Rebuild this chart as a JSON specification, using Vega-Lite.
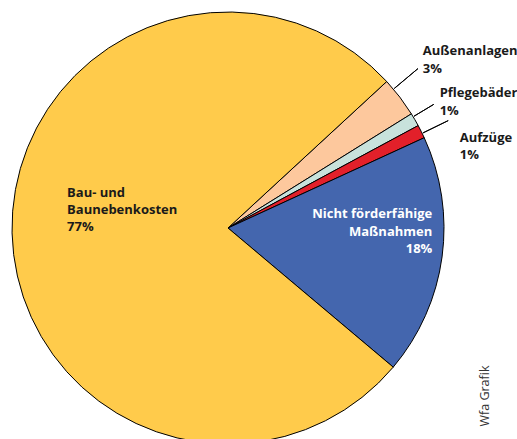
{
  "$schema": "https://vega.github.io/schema/vega-lite/v6.json",
  "width": 456,
  "height": 456,
  "autosize": {"type": "none"},
  "padding": {"left": 0, "top": 0, "right": 61, "bottom": 0},
  "background": "white",
  "config": {"view": {"stroke": null}},
  "data": {"values": [
    {"cat": "Außenanlagen", "rank": 1, "value": 3, "label": "Außenanlagen\n3%"},
    {"cat": "Pflegebäder", "rank": 2, "value": 1, "label": "Pflegebäder\n1%"},
    {"cat": "Aufzüge", "rank": 3, "value": 1, "label": "Aufzüge\n1%"},
    {"cat": "Nicht förderfähige Maßnahmen", "rank": 4, "value": 18, "label": "Nicht förderfähige\nMaßnahmen\n18%"},
    {"cat": "Bau- und Baunebenkosten", "rank": 5, "value": 77, "label": "Bau- und\nBaunebenkosten\n77%"}
  ]},
  "layer": [
    {
      "mark": {"type": "arc", "outerRadius": 216, "stroke": "#000000", "strokeWidth": 1},
      "encoding": {
        "theta": {"field": "value", "type": "quantitative", "stack": true, "scale": {"domain": [0, 100], "range": [0.8255, 7.1087]}},
        "order": {"field": "rank", "type": "quantitative"},
        "color": {"field": "cat", "type": "nominal", "legend": null,
          "scale": {"domain": ["Außenanlagen", "Pflegebäder", "Aufzüge", "Nicht förderfähige Maßnahmen", "Bau- und Baunebenkosten"],
                    "range": ["#FDC89D", "#C8E2DC", "#E2202A", "#4466AE", "#FFCB4B"]}}
      }
    },
    {
      "data": {"values": [{}]},
      "mark": {"type": "arc", "radius": 248, "radius2": 217, "stroke": "#000000", "strokeWidth": 1, "fill": null},
      "encoding": {"theta": {"datum": 0.75, "type": "quantitative"}, "theta2": {"datum": 0.75}}
    },
    {
      "data": {"values": [{}]},
      "mark": {"type": "arc", "radius": 240, "radius2": 217, "stroke": "#000000", "strokeWidth": 1, "fill": null},
      "encoding": {"theta": {"datum": 3.25, "type": "quantitative"}, "theta2": {"datum": 3.25}}
    },
    {
      "data": {"values": [{}]},
      "mark": {"type": "arc", "radius": 245, "radius2": 217, "stroke": "#000000", "strokeWidth": 1, "fill": null},
      "encoding": {"theta": {"datum": 4.64, "type": "quantitative"}, "theta2": {"datum": 4.64}}
    },
    {
      "mark": {"type": "text", "radius": 260, "dx": -12, "dy": -15, "align": "left", "baseline": "alphabetic", "font": "Open Sans", "fontSize": 13, "fontWeight": "bold", "lineHeight": 18, "lineBreak": "\n", "color": "#1a1a1a"},
      "encoding": {
        "theta": {"field": "value", "type": "quantitative", "stack": true},
        "order": {"field": "rank", "type": "quantitative"},
        "text": {"condition": {"test": "datum.cat === 'Außenanlagen'", "field": "label"}, "value": ""}
      }
    },
    {
      "mark": {"type": "text", "radius": 240, "dx": 4, "dy": -11, "align": "left", "baseline": "alphabetic", "font": "Open Sans", "fontSize": 13, "fontWeight": "bold", "lineHeight": 18, "lineBreak": "\n", "color": "#1a1a1a"},
      "encoding": {
        "theta": {"field": "value", "type": "quantitative", "stack": true},
        "order": {"field": "rank", "type": "quantitative"},
        "text": {"condition": {"test": "datum.cat === 'Pflegebäder'", "field": "label"}, "value": ""}
      }
    },
    {
      "mark": {"type": "text", "radius": 250, "dx": 8, "dy": 26, "align": "left", "baseline": "alphabetic", "font": "Open Sans", "fontSize": 13, "fontWeight": "bold", "lineHeight": 17, "lineBreak": "\n", "color": "#1a1a1a"},
      "encoding": {
        "theta": {"field": "value", "type": "quantitative", "stack": true},
        "order": {"field": "rank", "type": "quantitative"},
        "text": {"condition": {"test": "datum.cat === 'Aufzüge'", "field": "label"}, "value": ""}
      }
    },
    {
      "mark": {"type": "text", "radius": 190, "dx": 16, "dy": -35, "align": "right", "baseline": "alphabetic", "font": "Open Sans", "fontSize": 13, "fontWeight": "bold", "lineHeight": 17.5, "lineBreak": "\n", "color": "#ffffff"},
      "encoding": {
        "theta": {"field": "value", "type": "quantitative", "stack": true},
        "order": {"field": "rank", "type": "quantitative"},
        "text": {"condition": {"test": "datum.cat === 'Nicht förderfähige Maßnahmen'", "field": "label"}, "value": ""}
      }
    },
    {
      "mark": {"type": "text", "radius": 150, "dx": -11, "dy": -34, "align": "left", "baseline": "alphabetic", "font": "Open Sans", "fontSize": 13, "fontWeight": "bold", "lineHeight": 17, "lineBreak": "\n", "color": "#1a1a1a"},
      "encoding": {
        "theta": {"field": "value", "type": "quantitative", "stack": true},
        "order": {"field": "rank", "type": "quantitative"},
        "text": {"condition": {"test": "datum.cat === 'Bau- und Baunebenkosten'", "field": "label"}, "value": ""}
      }
    },
    {
      "data": {"values": [{"t": "Wfa Grafik"}]},
      "mark": {"type": "text", "radius": 307, "angle": 270, "align": "center", "baseline": "middle", "font": "Open Sans", "fontSize": 12.5, "color": "#333333"},
      "encoding": {
        "theta": {"datum": 21.08, "type": "quantitative"},
        "text": {"field": "t"}
      }
    }
  ]
}
